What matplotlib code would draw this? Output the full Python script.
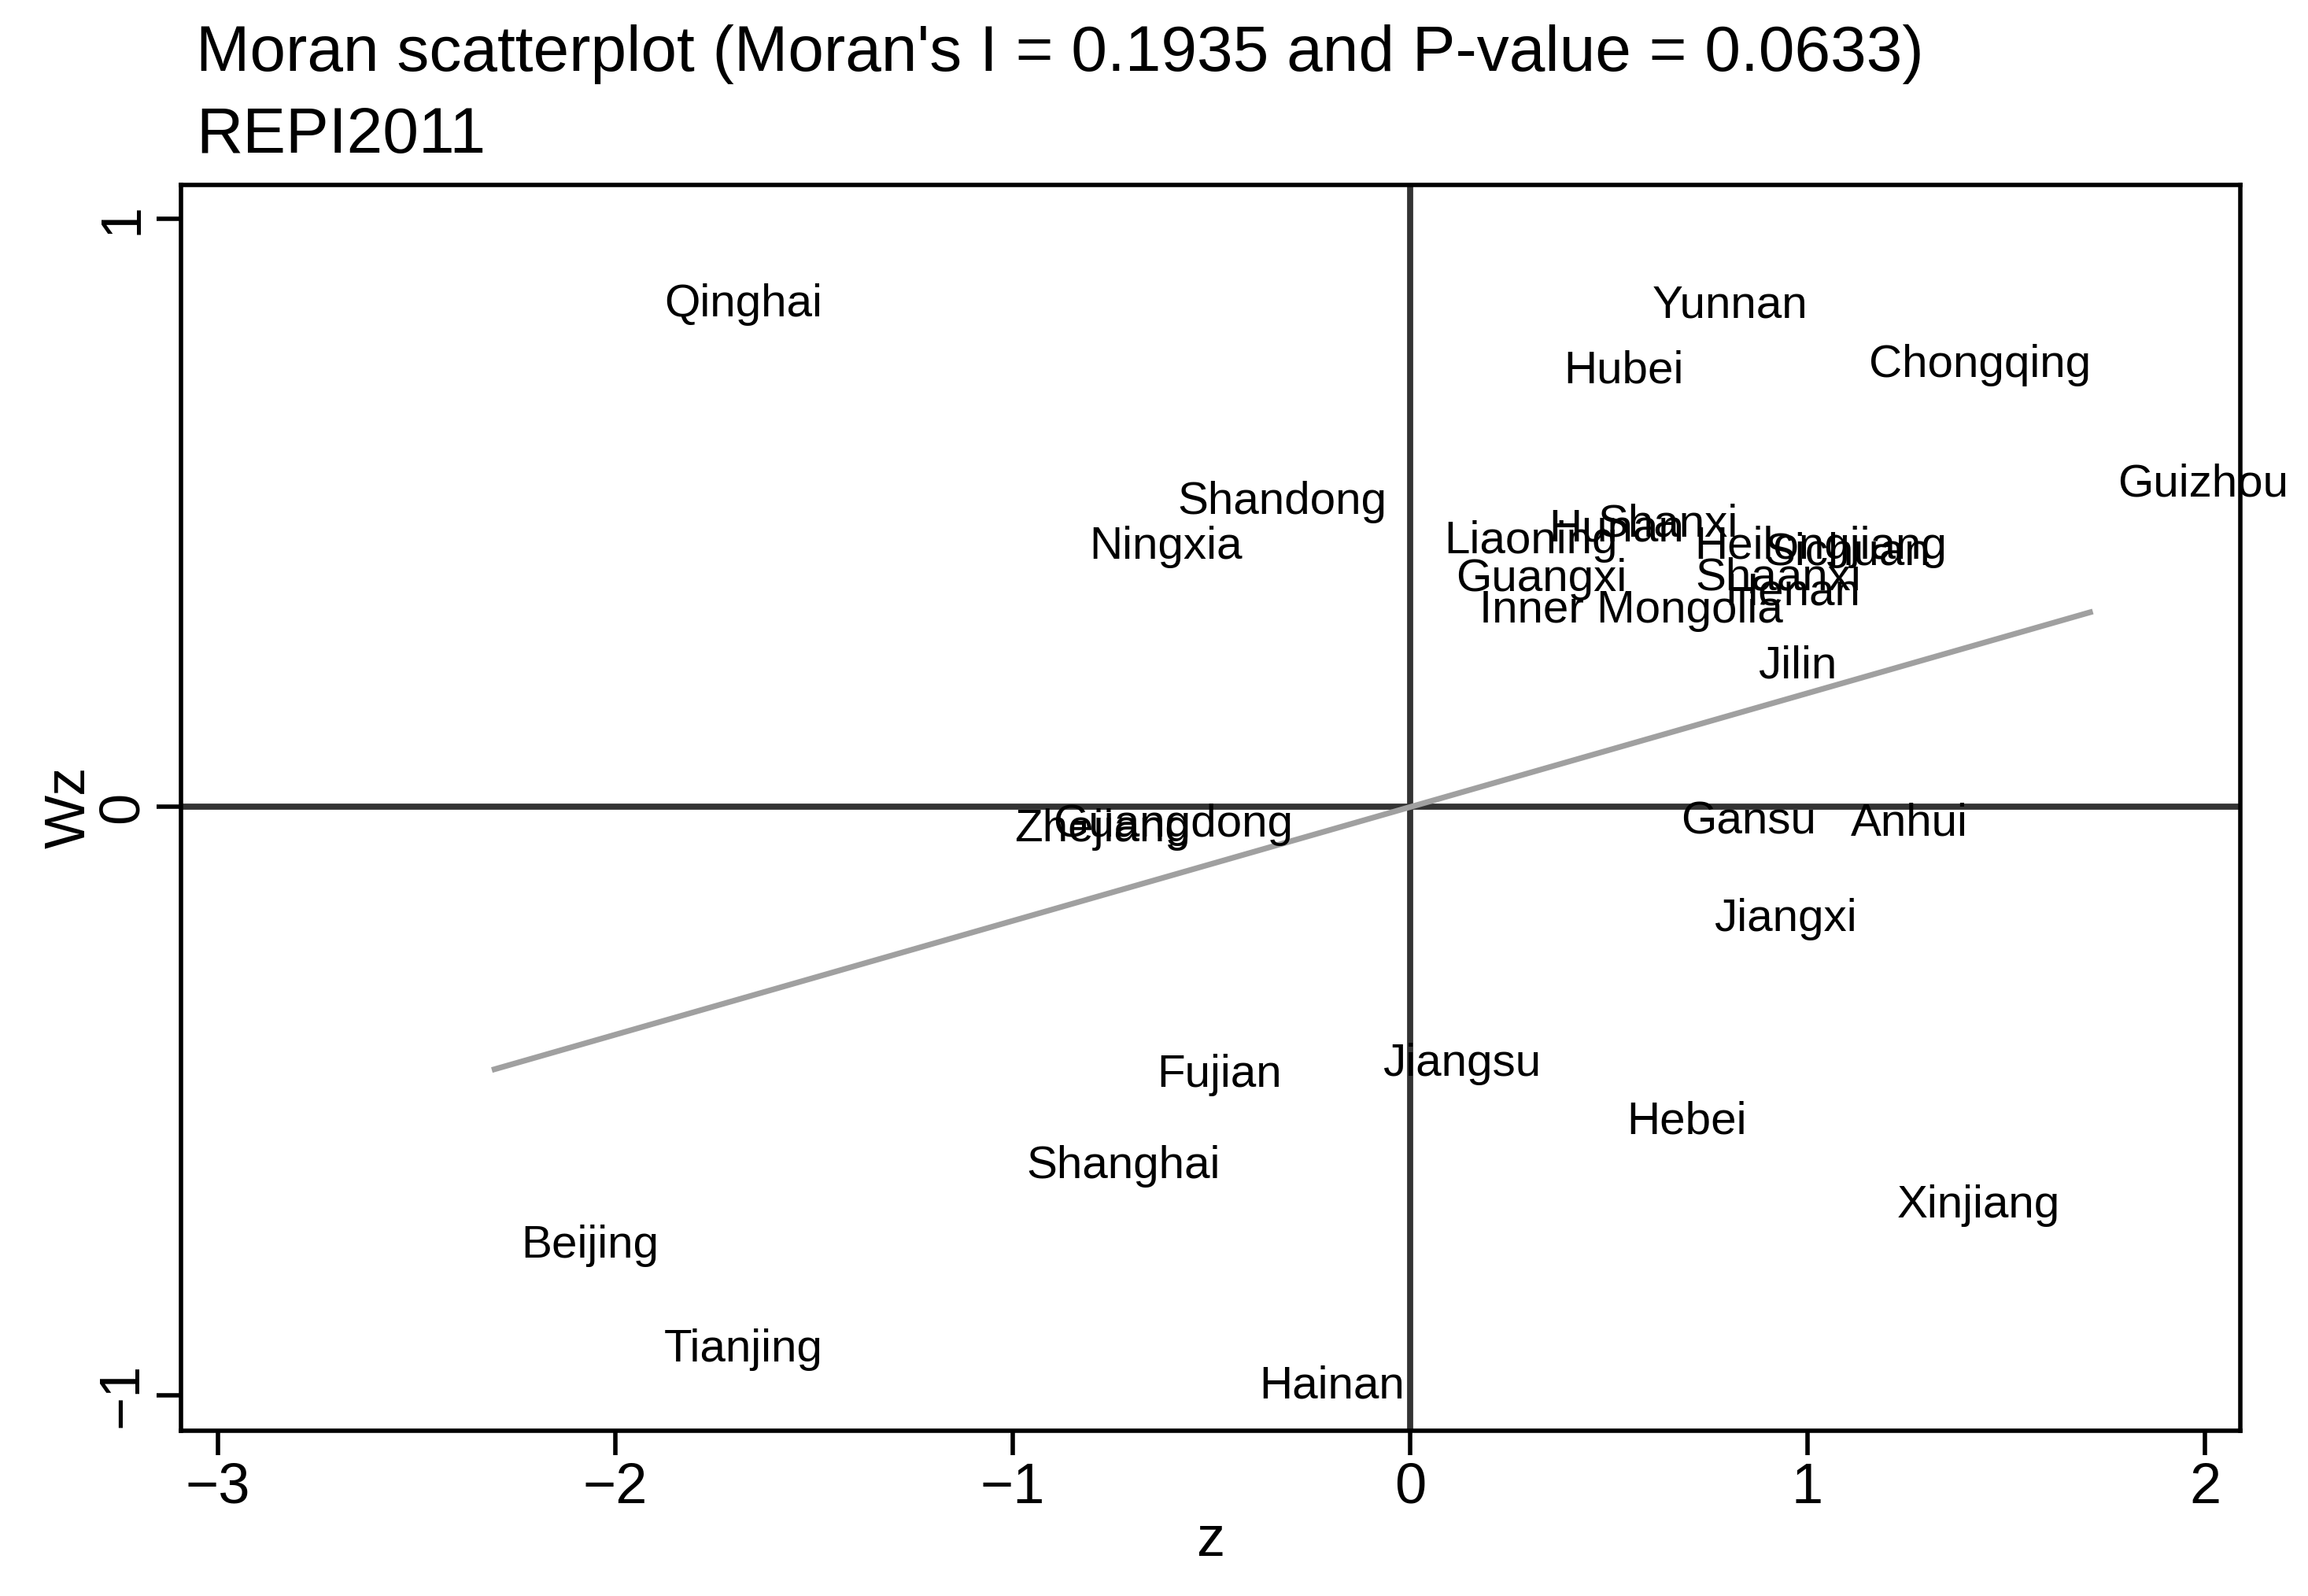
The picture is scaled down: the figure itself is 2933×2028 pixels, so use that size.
import matplotlib.pyplot as plt

plt.rcParams['font.family'] = ['Liberation Sans', 'DejaVu Sans']

provinces = ["Qinghai", "Yunnan", "Hubei", "Chongqing", "Guizhou", "Shandong", "Ningxia",
             "Liaoning", "Hunan", "Shanxi", "Heilongjiang", "Sichuan", "Shaanxi", "Henan",
             "Guangxi", "Inner Mongolia", "Jilin", "Zhejiang", "Guangdong", "Gansu", "Anhui",
             "Jiangxi", "Jiangsu", "Fujian", "Hebei", "Shanghai", "Xinjiang", "Beijing",
             "Tianjing", "Hainan"]
z = [-1.678, 0.804, 0.537, 1.433, 1.996, -0.322, -0.615,
     0.304, 0.519, 0.648, 1.033, 1.100, 0.926, 0.963,
     0.330, 0.556, 0.974, -0.774, -0.596, 0.852, 1.256,
     0.944, 0.130, -0.481, 0.696, -0.722, 1.430, -2.063,
     -1.678, -0.196]
wz = [0.854, 0.852, 0.741, 0.751, 0.548, 0.518, 0.442,
      0.452, 0.472, 0.480, 0.442, 0.432, 0.389, 0.364,
      0.387, 0.334, 0.239, -0.038, -0.030, -0.025, -0.028,
      -0.191, -0.437, -0.455, -0.535, -0.611, -0.678, -0.746,
      -0.922, -0.985]
morans_i = 0.1935
fit_x = [-2.304, 1.711]

fig = plt.figure(figsize=(14.665, 10.14), dpi=200)
ax = fig.add_axes([123 / 1568, 1 - 968 / 1080, (1522 - 123) / 1568, (968 - 125) / 1080])

ax.axhline(0, color='#333333', lw=2.8, zorder=1)
ax.axvline(0, color='#333333', lw=2.8, zorder=1)
ax.plot(fit_x, [morans_i * v for v in fit_x], color='#a0a0a0', lw=2.6, zorder=2)

for name, x, y in zip(provinces, z, wz):
    ax.text(x, y, name, ha='center', va='center', fontsize=21, zorder=3)

ax.set_xlim(-3.093, 2.089)
ax.set_ylim(-1.060, 1.058)
ax.set_xticks([-3, -2, -1, 0, 1, 2])
ax.set_xticklabels(['\u22123', '\u22122', '\u22121', '0', '1', '2'])
ax.set_yticks([-1, 0, 1])
ax.set_yticklabels(['\u22121', '0', '1'], rotation=90, va='center')
ax.tick_params(labelsize=26, width=2, length=11)
for s in ax.spines.values():
    s.set_linewidth(2)
ax.set_xlabel('z', fontsize=26, labelpad=0)
ax.set_ylabel('Wz', fontsize=26, labelpad=0)

fig.text(133 / 1568, 1 - 37 / 1080, "Moran scatterplot (Moran's I = 0.1935 and P-value = 0.0633)",
         fontsize=29.5, va='center')
fig.text(133 / 1568, 1 - 92 / 1080, "REPI2011", fontsize=29.5, va='center')

fig.savefig('out.png', dpi=200)
